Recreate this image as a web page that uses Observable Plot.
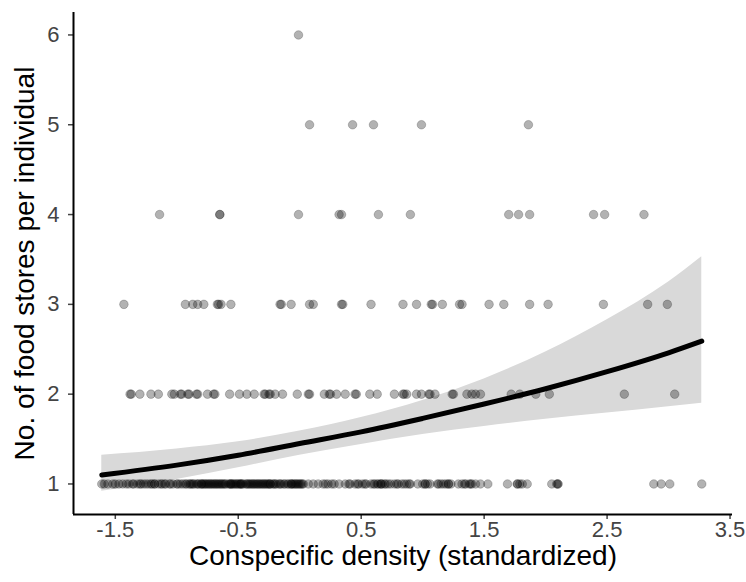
<!DOCTYPE html>
<html>
<head>
<meta charset="utf-8">
<script src="https://cdn.jsdelivr.net/npm/d3@7"></script>
<script src="https://cdn.jsdelivr.net/npm/@observablehq/plot@0.6"></script>
<style>
  html, body { margin: 0; padding: 0; background: white; }
</style>
</head>
<body>
<div id="chart"></div>
<script>
// Observed data: x (standardized conspecific density) for each count level
const row1 = [-1.61,-1.59,-1.56,-1.52,-1.50,-1.47,-1.44,-1.41,-1.39,-1.36,-1.35,-1.32,-1.30,-1.29,-1.27,-1.23,-1.21,-1.18,-1.18,-1.15,-1.13,-1.12,-1.09,-1.06,
  -1.03,-1.00,-0.97,-0.93,-0.90,
  -0.88,-0.87,-0.84,-0.82,-0.80,-0.78,-0.76,-0.74,-0.71,-0.69,-0.67,-0.65,-0.63,-0.61,-0.58,-0.56,-0.54,-0.52,-0.50,-0.48,-0.46,-0.43,-0.41,-0.39,-0.37,-0.35,-0.33,-0.30,-0.28,-0.26,-0.24,-0.22,-0.20,-0.17,-0.16,-0.13,
  -0.80,-0.72,-0.64,-0.56,-0.48,-0.40,-0.32,-0.24,
  -0.10,-0.07,-0.05,-0.03,0.00,0.02,-0.07,-0.01,
  0.07,0.11,0.15,0.19,0.23,0.28,0.32,
  0.37,0.41,0.45,0.48,0.51,0.54,0.58,0.61,0.64,0.66,0.66,0.67,0.70,0.74,0.77,0.80,0.83,0.87,0.90,
  0.96,1.02,1.02,1.06,1.13,1.15,1.17,1.21,1.21,1.29,1.32,1.35,1.38,1.40,1.43,
  1.47,1.53,1.69,1.77,1.77,1.81,1.85,2.05,2.10,2.10,2.88,2.94,3.01,3.27,
  // overlapping points in the dense stretch
  -1.25,-1.20,-1.10,-1.05,-0.99,-0.95,-0.92,-0.89,-0.86,-0.83,-0.79,-0.77,-0.75,-0.73,-0.70,-0.68,-0.66,-0.62,-0.60,-0.57,-0.55,-0.53,-0.51,-0.49,-0.47,-0.44,-0.42,-0.38,-0.36,-0.34,-0.31,-0.29,-0.27,-0.25,-0.21,-0.19,-0.15,-0.12,-0.09,-0.06,-0.04,-0.02,0.01,0.03,0.21,0.26,0.40,0.47,0.53,0.60,0.63,0.69,0.72,0.79,0.85,0.89,1.00,1.04,1.12,1.19,1.23,1.34,1.39,1.79,2.09];
const row2 = [-1.38,-1.37,-1.30,-1.21,-1.15,-1.04,-1.02,-0.97,-0.96,-0.91,-0.90,-0.84,-0.83,-0.75,-0.70,-0.69,-0.57,-0.49,-0.43,-0.37,-0.29,-0.28,-0.25,-0.24,-0.20,-0.14,-0.02,0.07,0.08,0.20,0.24,0.25,0.30,0.37,0.45,0.46,0.57,0.63,0.77,0.84,0.85,0.87,0.95,0.99,1.05,1.06,1.10,1.24,1.25,1.36,1.40,1.43,1.47,1.72,1.79,1.92,2.03,2.64,3.05];
const row3 = [-1.43,-0.93,-0.87,-0.83,-0.78,-0.67,-0.66,-0.64,-0.56,-0.16,-0.15,-0.07,0.08,0.11,0.34,0.35,0.58,0.84,0.95,1.07,1.08,1.16,1.30,1.32,1.54,1.66,1.87,2.02,2.47,2.83,2.99];
const row4 = [-1.14,-0.65,-0.65,-0.01,0.32,0.34,0.64,0.90,1.70,1.78,1.87,2.39,2.48,2.80];
const row5 = [0.08,0.43,0.60,0.99,1.86];
const row6 = [-0.01];
const rowCounts = [1, 2, 3, 4, 5, 6];

// Fitted curve and confidence band
const fitX  = [-1.61, -1.0, -0.5, 0.0, 0.5, 1.0, 1.5, 2.0, 2.5, 3.0, 3.27];
const fitY  = [1.10, 1.21, 1.32, 1.45, 1.58, 1.73, 1.89, 2.06, 2.25, 2.46, 2.59];
const fitLo = [0.92, 1.05, 1.18, 1.32, 1.44, 1.55, 1.64, 1.72, 1.79, 1.86, 1.90];
const fitHi = [1.32, 1.39, 1.47, 1.59, 1.74, 1.93, 2.17, 2.47, 2.83, 3.25, 3.53];

const xTicks = [-1.5, -0.5, 0.5, 1.5, 2.5, 3.5];
const xTickLabels = ["-1.5", "-0.5", "0.5", "1.5", "2.5", "3.5"];
const yTicks = [1, 2, 3, 4, 5, 6];
const xTitle = "Conspecific density (standardized)";
const yTitle = "No. of food stores per individual";

const rows = [row1, row2, row3, row4, row5, row6];
const points = rows.flatMap((r, i) => r.map(x => ({x, y: rowCounts[i]})));
const curve = fitX.map((x, i) => ({x, fit: fitY[i], lo: fitLo[i], hi: fitHi[i]}));

const xDomain = [-1.84, 3.52];
const yDomain = [0.66, 6.25];

const chart = Plot.plot({
  width: 746,
  height: 582,
  marginLeft: 73,
  marginRight: 14,
  marginTop: 12,
  marginBottom: 68,
  x: {domain: xDomain},
  y: {domain: yDomain},
  style: {fontFamily: "'Liberation Sans', Arial, sans-serif", background: "white"},
  marks: [
    Plot.areaY(curve, {x: "x", y1: "lo", y2: "hi", fill: "#d9d9d9", curve: "monotone-x"}),
    Plot.dot(points, {x: "x", y: "y", r: 4.3, fill: "black", fillOpacity: 0.3, stroke: "black", strokeOpacity: 0.2, strokeWidth: 1}),
    Plot.line(curve, {x: "x", y: "fit", stroke: "black", strokeWidth: 5, curve: "monotone-x"}),
    Plot.axisX({ticks: xTicks, tickFormat: (d, i) => xTickLabels[i], tickSize: 5, tickPadding: 2, fontSize: 22, color: "#444", strokeWidth: 1.5, label: null}),
    Plot.axisY({ticks: yTicks, tickFormat: d => String(d), tickSize: 5, tickPadding: 9, fontSize: 22, color: "#444", strokeWidth: 1.5, label: null}),
    Plot.ruleX([xDomain[0]], {stroke: "black", strokeWidth: 2}),
    Plot.ruleY([yDomain[0]], {stroke: "black", strokeWidth: 2}),
    Plot.text([xTitle], {text: d => d, frameAnchor: "bottom", dy: 42, fontSize: 28, fill: "black", lineAnchor: "middle"}),
    Plot.text([yTitle], {text: d => d, frameAnchor: "left", textAnchor: "middle", rotate: -90, dx: -48, fontSize: 28, fill: "black", lineAnchor: "middle"})
  ]
});
document.getElementById("chart").appendChild(chart);
</script>
</body>
</html>
